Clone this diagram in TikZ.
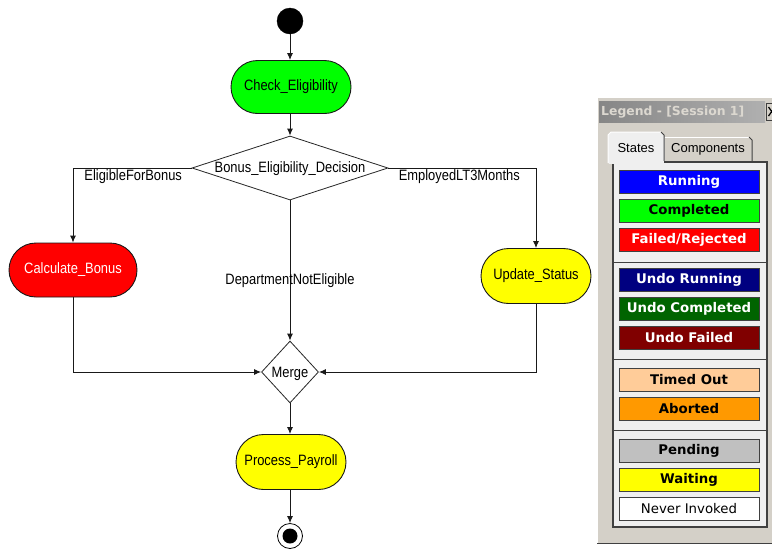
\documentclass[tikz,border=0pt]{standalone}
\usepackage{fontspec}
\setmainfont{Liberation Sans}
\newfontfamily\diagfont[FakeStretch=0.86]{Liberation Sans}
\newfontfamily\legfont{DejaVu Sans}
\newfontfamily\tabfont{Liberation Sans}
\usetikzlibrary{shapes.geometric,shapes.misc,arrows.meta}
\definecolor{winbg}{HTML}{D4D0C8}
\definecolor{panelbg}{HTML}{EFEFEF}
\definecolor{frame}{HTML}{404040}
\definecolor{titleL}{HTML}{868686}
\definecolor{titleR}{HTML}{B0B0B0}
\definecolor{titletxt}{HTML}{DCD8D0}
\definecolor{cgreen}{HTML}{00FF00}
\definecolor{cred}{HTML}{FF0000}
\definecolor{cyellow}{HTML}{FFFF00}
\definecolor{cblue}{HTML}{0000FF}
\definecolor{cnavy}{HTML}{000080}
\definecolor{cdkgreen}{HTML}{006400}
\definecolor{cmaroon}{HTML}{800000}
\definecolor{cpeach}{HTML}{FFCC99}
\definecolor{corange}{HTML}{FF9900}
\definecolor{cgray}{HTML}{C0C0C0}
\begin{document}
\begin{tikzpicture}[x=1pt,y=-1pt,
  act/.style={rounded rectangle, draw=black!90, line width=0.9pt, inner sep=0pt,
    font=\diagfont\fontsize{15}{17}\selectfont},
  decis/.style={diamond, draw=black!85, line width=0.8pt, inner sep=0pt},
  flow/.style={draw=black!90, line width=0.9pt, -{Latex[length=7pt,width=6pt]}},
  elabel/.style={inner sep=0pt, font=\diagfont\fontsize{15}{17}\selectfont},
  legbtn/.style={draw=frame, line width=1pt, minimum width=140pt, minimum height=23pt,
    inner sep=0pt, font=\legfont\bfseries\fontsize{13.3}{15}\selectfont},
  sepline/.style={draw=frame, line width=1pt},
  tablabel/.style={inner sep=0pt, font=\tabfont\fontsize{13}{15}\selectfont}
]
\useasboundingbox (0,0) rectangle (772,550);
\fill[white] (0,0) rectangle (772,550);

% ---------------- diagram ----------------
\node[circle, fill=black, draw=black, minimum size=26pt, inner sep=0pt] (start) at (290,21) {};
\node[act, fill=cgreen, minimum width=120pt, minimum height=53pt] (check) at (291,87) {Check\_Eligibility};
\node[decis, minimum width=196pt, minimum height=64pt,
  label={[elabel, yshift=-1pt]center:Bonus\_Eligibility\_Decision}] (dec) at (290,168) {};
\node[act, fill=cred, text=white, minimum width=128pt, minimum height=54pt] (calc) at (73,270) {Calculate\_Bonus};
\node[act, fill=cyellow, minimum width=110pt, minimum height=55pt] (upd) at (536,276) {Update\_Status};
\node[decis, minimum width=57pt, minimum height=62pt,
  label={[elabel, yshift=-2pt]center:Merge}] (merge) at (290,372) {};
\node[act, fill=cyellow, minimum width=110pt, minimum height=55pt] (proc) at (291,462) {Process\_Payroll};
\node[circle, draw=black, line width=0.8pt, fill=white, minimum size=25pt, inner sep=0pt] (end) at (290,536) {};
\fill[black] (end.center) circle (7.5pt);

\draw[flow] (start) -- (start |- check.north);
\draw[flow] (check.south -| dec.north) -- (dec.north);
\draw[flow] (dec.west) -| node[elabel, pos=0.5, anchor=west, xshift=11pt, yshift=-9pt] {EligibleForBonus} (calc.north);
\draw[flow] (dec.east) -| node[elabel, pos=0, anchor=west, xshift=10pt, yshift=-9pt] {EmployedLT3Months} (upd.north);
\draw[flow] (dec.south) -- node[elabel, pos=0.56, yshift=-1.5pt] {DepartmentNotEligible} (merge.north);
\draw[flow] (calc.south) |- (merge.west);
\draw[flow] (upd.south) |- (merge.east);
\draw[flow] (merge.south) -- (merge.south |- proc.north);
\draw[flow] (proc.south -| end.north) -- (end.north);

% ---------------- legend window ----------------
\fill[winbg] (597,97) rectangle (772,543);
\draw[white, line width=1pt] (597.5,543) -- (597.5,97.5) -- (772,97.5);
\draw[frame, line width=1pt] (597,543) -- (772,543);
\shade[left color=titleL, right color=titleR] (599,101) rectangle (765,122);
\node[anchor=west, inner sep=0pt, text=titletxt, font=\legfont\bfseries\fontsize{12.4}{14}\selectfont] (ltitle) at (601,112) {Legend - [Session 1]};
\fill[winbg] (766,103) rectangle (790,120);
\draw[frame, line width=1pt] (766,103) rectangle (790,120);
\draw[black, line width=1.2pt] (768.5,107) -- (775,116) (768.5,116) -- (775,107);

% tabs
\fill[winbg] (664,161) -- (664,137) -- (749,137) -- (752,140) -- (752,161) -- cycle;
\draw[white, line width=1pt] (664,161) -- (664,137) -- (749,137);
\draw[frame, line width=1pt] (749,137) -- (752,140) -- (752,161);
\fill[panelbg] (608,163) -- (608,135) -- (611,132) -- (661,132) -- (664,135) -- (664,163) -- cycle;
\draw[white, line width=1pt] (608,163) -- (608,135) -- (611,132) -- (661,132);
\draw[frame, line width=1pt] (661,132) -- (664,135) -- (664,161);
\node[tablabel] (tstates) at (636,148) {States};
\node[tablabel] (tcomp) at (708,149) {Components};

% panel
\filldraw[fill=panelbg, draw=frame, line width=1.2pt] (613,162) rectangle (767,527);
\fill[panelbg] (609,161) rectangle (663.5,164);
\draw[sepline] (613,262) -- (767,262);
\draw[sepline] (613,359) -- (767,359);
\draw[sepline] (613,430) -- (767,430);

\node[legbtn, fill=cblue, text=white] (lrun) at (689,181.5) {Running};
\node[legbtn, fill=cgreen, text=black] (lcomp) at (689,210.5) {Completed};
\node[legbtn, fill=cred, text=white] (lfail) at (689,239.5) {Failed/Rejected};
\node[legbtn, fill=cnavy, text=white] (lurun) at (689,280) {Undo Running};
\node[legbtn, fill=cdkgreen, text=white] (lucomp) at (689,309) {Undo Completed};
\node[legbtn, fill=cmaroon, text=white] (lufail) at (689,338) {Undo Failed};
\node[legbtn, fill=cpeach, text=black] (ltime) at (689,379.5) {Timed Out};
\node[legbtn, fill=corange, text=black] (labort) at (689,408.5) {Aborted};
\node[legbtn, fill=cgray, text=black] (lpend) at (689,450.5) {Pending};
\node[legbtn, fill=cyellow, text=black] (lwait) at (689,479.5) {Waiting};
\node[legbtn, fill=white, text=black, font=\legfont\fontsize{13.3}{15}\selectfont] (lnever) at (689,508.5) {Never Invoked};
\end{tikzpicture}
\end{document}
